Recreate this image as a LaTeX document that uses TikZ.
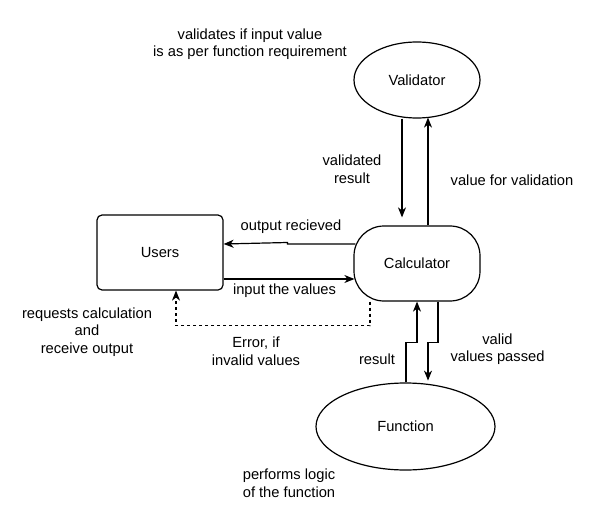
\documentclass[tikz,border=0pt]{standalone}
\usepackage{fontspec}
\setmainfont{Liberation Sans}
\usetikzlibrary{arrows.meta,shapes.geometric,calc}
\tikzset{
  lbl/.style={align=center,font=\fontsize{14.7pt}{17.5pt}\selectfont,inner sep=0pt},
  shp/.style={draw,line width=1.2pt,font=\fontsize{14.7pt}{17.5pt}\selectfont,inner sep=0pt},
  arr/.style={line width=1.2pt,-{Stealth[length=10pt,width=8pt,inset=3pt]}},
  plain/.style={line width=1.2pt},
}
\begin{document}
\begin{tikzpicture}[x=1pt,y=-1pt]
\useasboundingbox (0,0) rectangle (596,521);
% shapes
\node[shp,ellipse,minimum width=126pt,minimum height=76pt] (val) at (417,80) {Validator};
\node[shp,rectangle,rounded corners=30pt,minimum width=126pt,minimum height=75pt] (calc) at (417,263.5) {Calculator};
\node[shp,rectangle,rounded corners=5pt,minimum width=126pt,minimum height=75pt] (users) at (160,252.5) {Users};
\node[shp,ellipse,minimum width=179pt,minimum height=87pt] (func) at (405.5,426.5) {Function};
% connectors
\coordinate (vr) at ($(calc.north)+(-15,-8)$);
\draw[arr] ($(val.south)+(-15,0)$) -- (vr);
\draw[arr] ($(calc.north)+(11,0)$) -- ($(val.south)+(11,-1)$);
\draw[arr] ($(calc.west)+(2,-19.5)$) -- ($(calc.west)+(-66,-19.5)$) -- ($(calc.west)+(-66,-21)$) -- ($(users.east)+(0,-8.5)$);
\draw[arr] ($(users.east)+(0,26.5)$) -- ($(calc.west)+(1,15.5)$);
\draw[plain,dashed,-{Stealth[length=10pt,width=8pt,inset=3pt]}] ($(calc.south)+(-47,0)$) -- ++(0,24) -| (users.south -| 176,0);
\draw[arr] (func.north) ++(0.5,0) |- ($(calc.south)+(0,41)$) -- (calc.south);
\draw[arr] ($(calc.south)+(21,0)$) -- ++(0,41) -- ++(-10,0) -- ++(0,38);
% labels
\node[lbl] (t1) at (250,44) {validates if input value\\is as per function requirement};
\node[lbl] (t2) at (352,169) {validated\\result};
\node[lbl] (t3) at (512,180) {value for validation};
\node[lbl] (t4) at (291,227) {output recieved};
\node[lbl] (t5) at (284.5,291) {input the values};
\node[lbl] (t6) at (87,332) {requests calculation\\and\\receive output};
\node[lbl] (t7) at (256,351) {Error, if\\invalid values};
\node[lbl] (t8) at (377,359) {result};
\node[lbl] (t9) at (497.5,349) {valid\\values passed};
\node[lbl] (t10) at (289,483) {performs logic\\of the function};
\end{tikzpicture}
\end{document}
